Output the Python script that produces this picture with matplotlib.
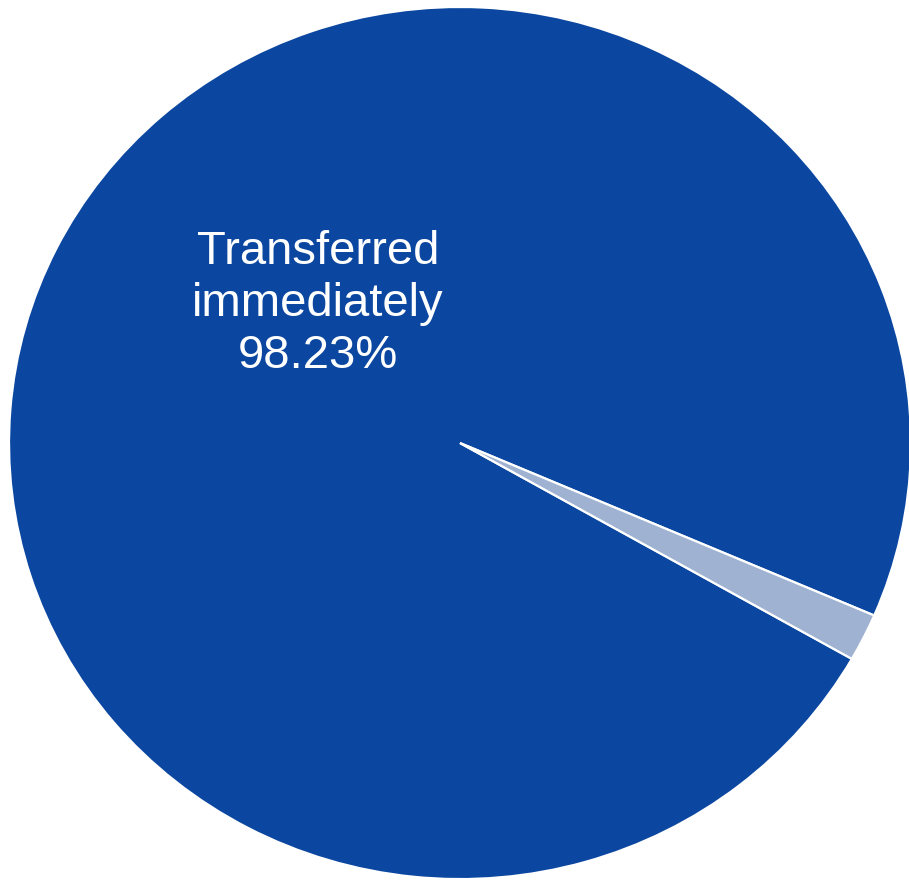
import matplotlib
matplotlib.use("Agg")
import matplotlib.pyplot as plt

# share of transfers
labels = ["Transferred immediately", "Other"]
shares = [98.23, 1.77]
colors = ["#0b47a0", "#9fb2d2"]

fig = plt.figure(figsize=(9.09, 8.83), dpi=100)
ax = fig.add_axes([0, 0, 1, 1])

wedges, _ = ax.pie(shares, colors=colors, startangle=-23.3, counterclock=True,
                   radius=1.0, wedgeprops=dict(edgecolor="white", linewidth=1.6))

# the pie runs slightly past the right edge and is a bit wider than tall
ax.set_aspect("auto")
ax.set_xlim(-1.020, 0.9956)
ax.set_ylim(-1.009, 1.016)
ax.axis("off")

ax.text(-0.315, 0.172, "Transferred\nimmediately\n%.2f%%" % shares[0],
        ha="center", va="baseline", color="white", fontsize=34,
        family="Liberation Sans", linespacing=1.24)

fig.savefig("out.png", dpi=100)
